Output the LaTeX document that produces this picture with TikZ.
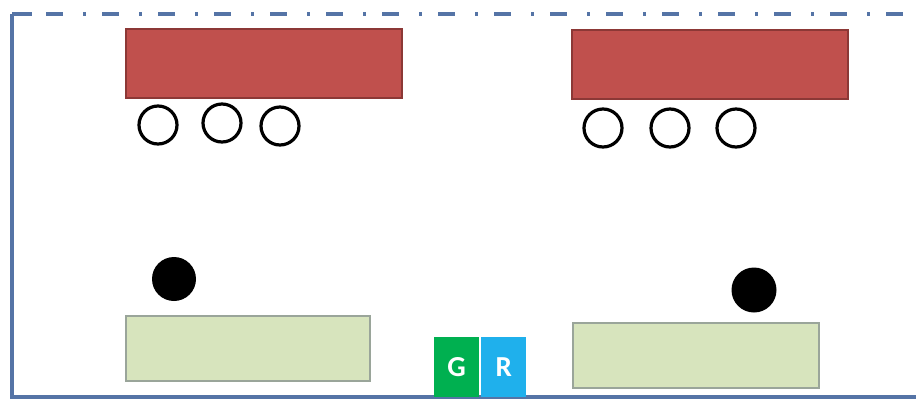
\documentclass[tikz,border=0pt]{standalone}
\usepackage{fontspec}
\setsansfont{Carlito}
\definecolor{frame}{HTML}{5574A6}
\definecolor{redfill}{HTML}{C0504D}
\definecolor{redline}{HTML}{8C3836}
\definecolor{greenfill}{HTML}{D7E4BD}
\definecolor{greenline}{HTML}{9AA59A}
\definecolor{gbox}{HTML}{00B050}
\definecolor{rbox}{HTML}{1FB0EC}
\tikzset{
  car/.style={fill=redfill,draw=redline,line width=2pt},
  pad/.style={fill=greenfill,draw=greenline,line width=1.5pt},
  wheel/.style={draw=black,line width=3.2pt,fill=white},
  ball/.style={fill=black},
  letter/.style={text=white,font=\sffamily\bfseries\fontsize{29}{29}\selectfont,minimum width=45pt,minimum height=60pt,inner sep=0pt,anchor=north west}
}
\begin{document}
\begin{tikzpicture}[x=1pt,y=-1pt]
\useasboundingbox (0,0) rectangle (916,400);
% frame
\draw[frame,line width=4pt] (12,14) -- (12,397) -- (916,397);
\draw[frame,line width=4pt] (12,14) -- (32,14);
\draw[frame,line width=4pt,dash pattern=on 17pt off 20pt on 3pt off 16pt,dash phase=-14pt] (32,14) -- (916,14);
% cars
\draw[car] (126,29) rectangle (402,98);
\draw[car] (572,30) rectangle (848,99);
% wheels
\draw[wheel] (158,125) circle (19);
\draw[wheel] (222,123) circle (19);
\draw[wheel] (280,126) circle (19);
\draw[wheel] (603,128) circle (19);
\draw[wheel] (670,128) circle (19);
\draw[wheel] (736,128) circle (19);
% balls
\fill[ball] (174,279) circle (22);
\fill[ball] (754,290) circle (22.5);
% pads
\draw[pad] (126,316) rectangle (370,381);
\draw[pad] (573,323) rectangle (819,388);
% G R
\node[letter,fill=gbox] (g) at (434,337) {G};
\node[letter,fill=rbox] (r) at (481,337) {R};
\end{tikzpicture}
\end{document}
